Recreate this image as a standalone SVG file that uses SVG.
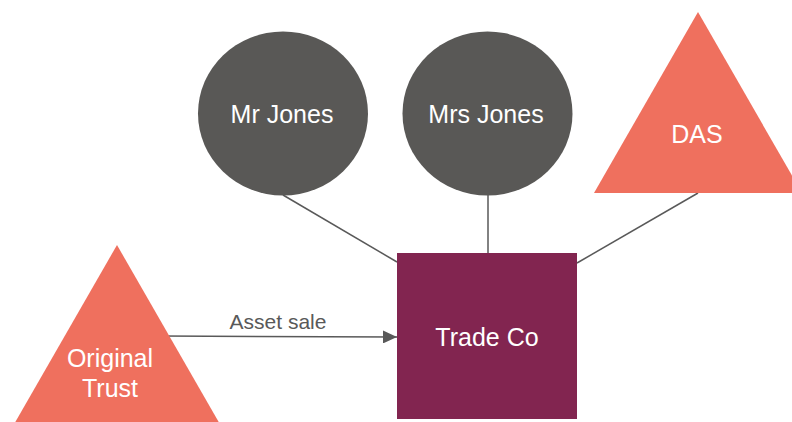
<svg xmlns="http://www.w3.org/2000/svg" width="792" height="422" viewBox="0 0 792 422">
  <style>
    .person { fill: #595856; }
    .trust { fill: #EF705E; }
    .company { fill: #822550; }
    .label { font-family: "Liberation Sans", Arial, sans-serif; font-size: 25px; fill: #FFFFFF; text-anchor: middle; }
    .edge { stroke: #595959; stroke-width: 1.5; fill: none; }
    .edge-label { font-family: "Liberation Sans", Arial, sans-serif; font-size: 21px; fill: #595959; text-anchor: middle; }
  </style>
  <defs>
    <marker id="arrow" viewBox="0 0 14 13" refX="14" refY="6.5" markerWidth="14" markerHeight="13" markerUnits="userSpaceOnUse" orient="auto">
      <path d="M0,0 L14,6.5 L0,13 Z" fill="#595959"/>
    </marker>
  </defs>
  <rect width="792" height="422" fill="#FFFFFF"/>
  <g id="connectors">
    <line class="edge" x1="283" y1="195" x2="397" y2="262"/>
    <line class="edge" x1="488" y1="195" x2="488" y2="253"/>
    <line class="edge" x1="698" y1="193" x2="577" y2="263"/>
    <path class="edge" d="M160,336 L397,337" marker-end="url(#arrow)"/>
    <text class="edge-label" x="278" y="329">Asset sale</text>
  </g>
  <g id="mr-jones">
    <ellipse class="person" cx="283" cy="113.5" rx="85" ry="82"/>
    <text class="label" x="282" y="123">Mr Jones</text>
  </g>
  <g id="mrs-jones">
    <ellipse class="person" cx="487.5" cy="113.5" rx="85" ry="82"/>
    <text class="label" x="486" y="123">Mrs Jones</text>
  </g>
  <g id="das">
    <polygon class="trust" points="698,12 802,193 594,193"/>
    <text class="label" x="697" y="143">DAS</text>
  </g>
  <g id="original-trust">
    <polygon class="trust" points="117,245 221,426 13,426"/>
    <text class="label" x="110" y="367">Original</text>
    <text class="label" x="110" y="397">Trust</text>
  </g>
  <g id="trade-co">
    <rect class="company" x="397" y="253" width="180" height="166"/>
    <text class="label" x="487" y="346">Trade Co</text>
  </g>
</svg>
